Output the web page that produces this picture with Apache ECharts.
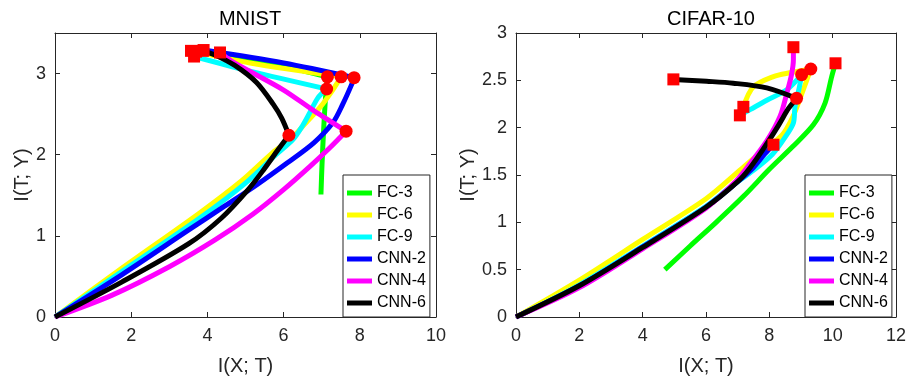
<!DOCTYPE html>
<html>
<head>
<meta charset="utf-8">
<script src="https://cdn.jsdelivr.net/npm/echarts@6/dist/echarts.min.js"></script>
<style>
  html, body { margin: 0; padding: 0; background: #fff; }
  #chart { width: 909px; height: 381px; }
</style>
</head>
<body>
<div id="chart"></div>
<script>
// legend order, colours
const names = ['FC-3', 'FC-6', 'FC-9', 'CNN-2', 'CNN-4', 'CNN-6'];
const colors = ['#00ff00', '#ffff00', '#00ffff', '#0000ff', '#ff00ff', '#000000'];

// MNIST trajectories, [I(X;T), I(T;Y)]
const mnistFC3 = [[6.98, 1.51], [7.01, 1.9], [7.05, 2.3], [7.1, 2.7], [7.15, 2.96], [6.0, 3.09], [4.6, 3.22], [3.57, 3.28]];
const mnistFC6 = [[0, 0], [1.75, 0.6], [3.76, 1.27], [4.9, 1.68], [5.7, 2.02], [6.2, 2.2], [6.6, 2.4], [6.95, 2.58], [7.22, 2.75], [7.51, 2.96], [5.12, 3.13], [3.7, 3.27]];
const mnistFC9 = [[0, 0], [1.75, 0.56], [3.8, 1.22], [5.0, 1.65], [5.8, 2.0], [6.25, 2.19], [6.5, 2.36], [6.69, 2.52], [6.9, 2.7], [7.13, 2.81], [5.12, 3.03], [3.65, 3.21]];
const mnistCNN2 = [[0, 0], [1.75, 0.52], [3.5, 1.07], [4.4, 1.35], [5.3, 1.63], [6.1, 1.9], [6.8, 2.15], [7.3, 2.4], [7.55, 2.62], [7.79, 2.87], [7.85, 2.95], [6.0, 3.13], [3.9, 3.29]];
const mnistCNN4 = [[0, 0], [1.5, 0.27], [3.0, 0.62], [4.2, 0.95], [5.2, 1.27], [6.0, 1.57], [6.7, 1.86], [7.2, 2.08], [7.64, 2.29], [6.8, 2.54], [5.99, 2.8], [4.68, 3.14], [4.33, 3.26]];
const mnistCNN6 = [[0, 0], [1.75, 0.43], [3.5, 0.9], [4.37, 1.22], [5.07, 1.57], [5.5, 1.83], [5.82, 2.04], [6.14, 2.24], [5.95, 2.45], [5.73, 2.62], [5.29, 2.89], [4.72, 3.1], [4.2, 3.23], [3.88, 3.28]];
const mnistTurn = [4, 9, 9, 10, 8, 7];

// CIFAR-10 trajectories
const cifarFC3 = [[4.7, 0.5], [5.5, 0.75], [6.32, 1.0], [7.2, 1.28], [8.0, 1.56], [8.74, 1.8], [9.39, 2.03], [9.76, 2.26], [9.97, 2.54], [10.09, 2.68]];
const cifarFC6 = [[0, 0], [2, 0.39], [4, 0.82], [6, 1.25], [7.1, 1.56], [7.8, 1.76], [8.4, 1.92], [8.75, 2.12], [9.05, 2.38], [9.31, 2.62], [8.65, 2.58], [8.13, 2.54], [7.49, 2.43], [7.18, 2.22]];
const cifarFC9 = [[0, 0], [2, 0.34], [4, 0.75], [6, 1.17], [6.8, 1.38], [7.5, 1.55], [8.1, 1.72], [8.5, 1.9], [8.76, 2.05], [8.81, 2.22], [8.95, 2.43], [9.02, 2.56], [8.55, 2.4], [7.92, 2.29], [7.39, 2.19], [7.07, 2.13]];
const cifarCNN2 = [[0, 0], [2, 0.33], [4, 0.74], [6, 1.16], [7.0, 1.43], [7.5, 1.58], [7.85, 1.72], [8.13, 1.82]];
const cifarCNN4 = [[0, 0], [2, 0.31], [4, 0.72], [6, 1.15], [6.9, 1.42], [7.3, 1.58], [7.92, 1.86], [8.34, 2.12], [8.55, 2.36], [8.7, 2.56], [8.76, 2.72], [8.76, 2.85]];
const cifarCNN6 = [[0, 0], [2, 0.33], [4, 0.735], [6, 1.16], [7.0, 1.43], [7.4, 1.58], [7.9, 1.82], [8.3, 2.03], [8.6, 2.2], [8.86, 2.31], [7.92, 2.42], [6.86, 2.47], [6.02, 2.49], [4.97, 2.51]];
const cifarTurn = [null, 9, 11, null, null, 9];

const mnistCurves = [mnistFC3, mnistFC6, mnistFC9, mnistCNN2, mnistCNN4, mnistCNN6];
const cifarCurves = [cifarFC3, cifarFC6, cifarFC9, cifarCNN2, cifarCNN4, cifarCNN6];

const FONT = '"Liberation Sans", Arial, Helvetica, sans-serif';
const AX = '#262626';

function lines(curves, turns, gi) {
  const out = [];
  curves.forEach((c, i) => {
    const t = turns[i];
    const segs = t == null ? [c] : [c.slice(0, t + 1), c.slice(t)];
    segs.forEach((s) => {
      out.push({
        name: names[i],
        type: 'line',
        xAxisIndex: gi * 2,
        yAxisIndex: gi * 2,
        data: s,
        smooth: 0.3,
        symbol: 'none',
        color: colors[i],
        lineStyle: { color: colors[i], width: 5, cap: 'butt' },
        itemStyle: { color: colors[i] },
        z: 2,
      });
    });
  });
  return out;
}

function markers(curves, turns, gi) {
  const circ = [];
  const sq = [];
  curves.forEach((c, i) => {
    if (turns[i] != null) circ.push(c[turns[i]]);
    sq.push(c[c.length - 1]);
  });
  const base = { type: 'scatter', xAxisIndex: gi * 2, yAxisIndex: gi * 2, itemStyle: { color: '#ff0000', opacity: 1 }, z: 5, silent: true };
  return [
    Object.assign({}, base, { data: circ, symbol: 'circle', symbolSize: 13 }),
    Object.assign({}, base, { data: sq, symbol: 'rect', symbolSize: 12 }),
  ];
}

function xAx(gi, max, pos) {
  return {
    type: 'value', gridIndex: gi, position: pos, min: 0, max: max, interval: 2,
    axisLine: { show: true, onZero: false, lineStyle: { color: AX, width: 1 } },
    axisTick: { show: true, inside: true, length: 5, lineStyle: { color: AX } },
    axisLabel: { show: pos === 'bottom', color: AX, fontSize: 18, fontFamily: FONT, margin: 10 },
    splitLine: { show: false },
    name: pos === 'bottom' ? 'I(X; T)' : '',
    nameLocation: 'middle', nameGap: 39,
    nameTextStyle: { color: AX, fontSize: 20, fontFamily: FONT },
  };
}

function yAx(gi, max, interval, pos, gap) {
  return {
    type: 'value', gridIndex: gi, position: pos, min: 0, max: max, interval: interval,
    axisLine: { show: true, onZero: false, lineStyle: { color: AX, width: 1 } },
    axisTick: { show: true, inside: true, length: 5, lineStyle: { color: AX } },
    axisLabel: { show: pos === 'left', color: AX, fontSize: 18, fontFamily: FONT, margin: 9, showMaxLabel: max === 3 },
    splitLine: { show: false },
    name: pos === 'left' ? 'I(T; Y)' : '',
    nameLocation: 'middle', nameGap: gap,
    nameTextStyle: { color: AX, fontSize: 20, fontFamily: FONT },
  };
}

function legend(left) {
  return {
    data: names, orient: 'vertical', left: left, top: 175,
    icon: 'rect', itemWidth: 25, itemHeight: 5, itemGap: 4,
    padding: [9, 4, 5, 4],
    borderColor: AX, borderWidth: 1, backgroundColor: '#fff',
    textStyle: { color: '#000', fontSize: 16, fontFamily: FONT, lineHeight: 18 },
    selectedMode: false, z: 10,
  };
}

const chart = echarts.init(document.getElementById('chart'));
chart.setOption({
  animation: false,
  backgroundColor: '#fff',
  title: [
    { text: 'MNIST', left: 245, top: 4, textAlign: 'center', textStyle: { color: '#000', fontSize: 20, fontWeight: 'normal', fontFamily: FONT } },
    { text: 'CIFAR-10', left: 706, top: 4, textAlign: 'center', textStyle: { color: '#000', fontSize: 20, fontWeight: 'normal', fontFamily: FONT } },
  ],
  grid: [
    { left: 55, top: 33, width: 381, height: 285 },
    { left: 516, top: 33, width: 380, height: 285 },
  ],
  xAxis: [xAx(0, 10, 'bottom'), xAx(0, 10, 'top'), xAx(1, 12, 'bottom'), xAx(1, 12, 'top')],
  yAxis: [yAx(0, 3.5, 1, 'left', 23), yAx(0, 3.5, 1, 'right', 0), yAx(1, 3, 0.5, 'left', 31), yAx(1, 3, 0.5, 'right', 0)],
  legend: [legend(343), legend(805)],
  series: [].concat(
    lines(mnistCurves, mnistTurn, 0),
    lines(cifarCurves, cifarTurn, 1),
    markers(mnistCurves, mnistTurn, 0),
    markers(cifarCurves, cifarTurn, 1)
  ),
});
</script>
</body>
</html>
